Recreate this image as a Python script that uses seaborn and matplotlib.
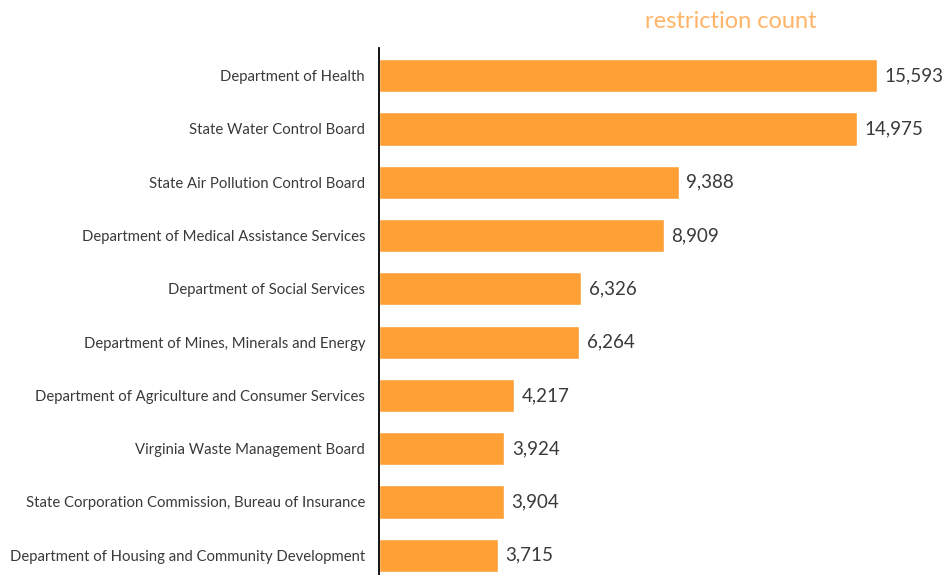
import matplotlib
matplotlib.use("Agg")
from matplotlib import pyplot as plt
import pandas as pd
import seaborn as sns

agencies = [
    "Department of Health",
    "State Water Control Board",
    "State Air Pollution Control Board",
    "Department of Medical Assistance Services",
    "Department of Social Services",
    "Department of Mines, Minerals and Energy",
    "Department of Agriculture and Consumer Services",
    "Virginia Waste Management Board",
    "State Corporation Commission, Bureau of Insurance",
    "Department of Housing and Community Development",
]
restrictions = [15593, 14975, 9388, 8909, 6326, 6264, 4217, 3924, 3904, 3715]

BAR_COLOR = "#FFA037"
TITLE_COLOR = "#FFB468"
TEXT_COLOR = "#3A3A3A"

df = pd.DataFrame({"agency": agencies, "count": restrictions})

sns.set_theme(style="white")
plt.rcParams["font.family"] = ["Lato", "DejaVu Sans"]

fig = plt.figure(figsize=(9.44, 5.75), dpi=100)
ax = fig.add_axes([379 / 944, 0, 1 - 379 / 944, 1 - 48 / 575])

sns.barplot(data=df, x="count", y="agency", color=BAR_COLOR, saturation=1,
            width=0.62, ax=ax)

ax.set_xlim(0, 17690)
ax.set_ylim(9.37, -0.52)

# value labels just right of each bar
for i, v in enumerate(restrictions):
    ax.annotate(f"{v:,}", xy=(v, i), xytext=(5.5, 0), textcoords="offset points",
                va="center", ha="left", fontsize=13.5, color=TEXT_COLOR)

ax.set_xlabel("")
ax.set_ylabel("")
ax.set_xticks([])
ax.tick_params(axis="y", length=0, pad=10, labelsize=10.7, labelcolor=TEXT_COLOR)
for side in ["top", "right", "bottom"]:
    ax.spines[side].set_visible(False)
ax.spines["left"].set_color("black")
ax.spines["left"].set_linewidth(1.3)

fig.text(731 / 944, 1 - 22 / 575, "restriction count", ha="center", va="center",
         fontsize=17, color=TITLE_COLOR)

fig.savefig("out.png", dpi=100)
plt.close(fig)
